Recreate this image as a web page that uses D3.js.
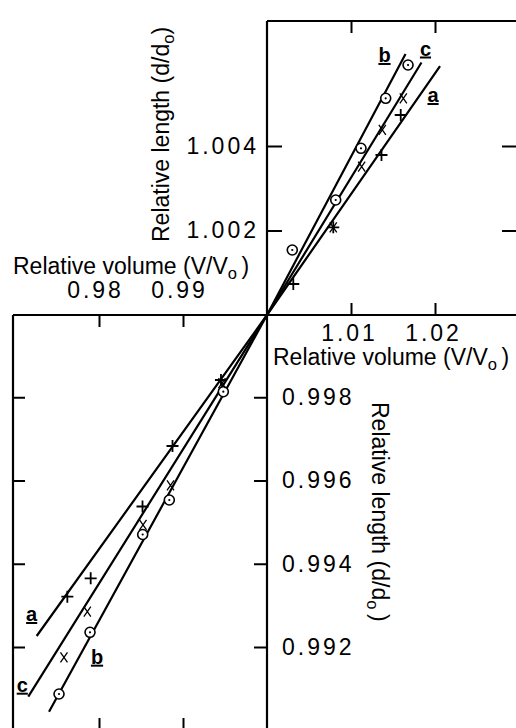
<!DOCTYPE html>
<html><head><meta charset="utf-8">
<script src="https://cdn.jsdelivr.net/npm/d3@7"></script>
<style>
body{margin:0;background:#fff}
svg{display:block}
text{font-family:"Liberation Sans",Arial,Helvetica,sans-serif;fill:#000}
</style></head>
<body><svg id="chart" width="516" height="728"></svg>
<script>
// ---- data ----
const xTicksUpper = [1.01, 1.02];
const xTicksLower = [0.98, 0.99];
const yTicksUpper = [1.002, 1.004];
const yTicksLower = [0.992, 0.994, 0.996, 0.998];
const xTitle = "Relative volume (V/V";
const yTitle = "Relative length (d/d";

// series a (+), b (circle), c (x): [V/Vo, d/do]
const plusUpper   = [[1.01592,1.004734],[1.01363,1.003787],[1.00789,1.002076],[1.00313,1.000734]];
const crossUpper  = [[1.01623,1.005129],[1.01373,1.004379],[1.01127,1.003510],[1.00789,1.002076]];
const circleUpper = [[1.01679,1.005917],[1.01413,1.005129],[1.01119,1.003945],[1.00818,1.002722],[1.00301,1.001538]];
const plusLower   = [[0.99452,0.998414],[0.98875,0.996829],[0.98518,0.995375],[0.97901,0.993651],[0.97623,0.993208]];
const crossLower  = [[0.99464,0.998342],[0.98851,0.995880],[0.98524,0.994931],[0.97861,0.992848],[0.97583,0.991752]];
const circleLower = [[0.99480,0.998133],[0.98837,0.995532],[0.98520,0.994703],[0.97893,0.992353],[0.97524,0.990871]];

const lineA = [[0.97258,0.992264],[1,1],[1.02060,1.005893]];
const lineB = [[0.97405,0.990446],[1,1],[1.01649,1.006178]];
const lineC = [[0.97158,0.990806],[1,1],[1.01839,1.005976]];
const lineNames = ["a","b","c"];

// ---- scales ----
const svg = d3.select("#chart");
const x = d3.scaleLinear().domain([0.98, 1.02]).range([99, 435]);
const yUp = d3.scaleLinear().domain([1, 1.004]).range([315, 146]);
const yLo = d3.scaleLinear().domain([1, 0.992]).range([314, 647]);
const y = d => d >= 1 ? yUp(d) : yLo(d);

const X0 = x(1), Y0 = yUp(1);
const leftX = 13, topY = 21, rightX = 516, botY = 728;
const FS = 23;

// ---- frames ----
const frame = svg.append("g").attr("stroke","#000").attr("stroke-width",2.2).attr("fill","none");
frame.append("line").attr("x1",X0).attr("x2",rightX+2).attr("y1",topY).attr("y2",topY);
frame.append("line").attr("x1",X0).attr("x2",X0).attr("y1",topY).attr("y2",botY+2);
frame.append("line").attr("x1",leftX).attr("x2",rightX+2).attr("y1",Y0).attr("y2",Y0);
frame.append("line").attr("x1",leftX).attr("x2",leftX).attr("y1",Y0).attr("y2",botY+2);

function styleAxis(g){
  g.select(".domain").remove();
  g.selectAll(".tick line").attr("stroke","#000").attr("stroke-width",2);
  g.selectAll(".tick text").attr("font-size",FS).attr("letter-spacing","3px")
    .attr("font-family","'Liberation Sans',Arial,sans-serif").attr("fill","#000");
}

// upper-right quadrant
svg.append("g").attr("transform",`translate(0,${topY})`)
  .call(d3.axisBottom(x).tickValues(xTicksUpper).tickSize(12).tickFormat(""))
  .call(styleAxis);
svg.append("g").attr("transform",`translate(0,${Y0})`)
  .call(d3.axisBottom(x).tickValues(xTicksUpper).tickSizeInner(-12).tickSizeOuter(0).tickPadding(10).tickFormat(d3.format(".2f")))
  .call(styleAxis)
  .call(g=>g.selectAll(".tick text").attr("dx","-2"));
svg.append("g").attr("transform",`translate(${X0},0)`)
  .call(d3.axisLeft(yUp).tickValues(yTicksUpper).tickSizeInner(-15).tickSizeOuter(0).tickPadding(8).tickFormat(d3.format(".3f")))
  .call(styleAxis);
svg.append("g").attr("transform",`translate(${rightX},0)`)
  .call(d3.axisRight(yUp).tickValues(yTicksUpper).tickSize(-14).tickFormat(""))
  .call(styleAxis);

// lower-left quadrant
svg.append("g").attr("transform",`translate(0,${Y0})`)
  .call(d3.axisTop(x).tickValues(xTicksLower).tickSizeInner(-12).tickSizeOuter(0).tickPadding(17).tickFormat(d3.format(".2f")))
  .call(styleAxis)
  .call(g=>g.selectAll(".tick text").attr("dx","-4"));
svg.append("g").attr("transform",`translate(0,${botY})`)
  .call(d3.axisTop(x).tickValues(xTicksLower).tickSize(10).tickFormat(""))
  .call(styleAxis);
svg.append("g").attr("transform",`translate(${leftX},0)`)
  .call(d3.axisRight(yLo).tickValues(yTicksLower).tickSize(12).tickFormat(""))
  .call(styleAxis);
svg.append("g").attr("transform",`translate(${X0},0)`)
  .call(d3.axisRight(yLo).tickValues(yTicksLower).tickSizeInner(-13).tickSizeOuter(0).tickPadding(15).tickFormat(d3.format(".3f")))
  .call(styleAxis);

// ---- titles ----
function title(g, base, closing){
  const t = g.append("text").attr("font-size",FS);
  t.append("tspan").text(base);
  t.append("tspan").attr("font-size",FS*0.72).attr("dy",5).text("o");
  t.append("tspan").attr("dy",-5).text(closing);
  return t;
}
title(svg.append("g").attr("transform",`translate(${leftX},274)`), xTitle, "\u2009)");
title(svg.append("g").attr("transform",`translate(273,365)`), xTitle, "\u2009)");
title(svg.append("g").attr("transform",`translate(169,242) rotate(-90)`), yTitle, ")");
title(svg.append("g").attr("transform",`translate(372,402) rotate(90)`), yTitle, "\u2009)");

// ---- lines ----
const lineGen = d3.line().x(d=>x(d[0])).y(d=>y(d[1]));
const lines = [lineA, lineB, lineC];
svg.append("g").selectAll("path").data(lines).join("path")
  .attr("d", lineGen).attr("fill","none").attr("stroke","#000").attr("stroke-width",2.2);

// ---- markers ----
const mk = svg.append("g").attr("stroke","#000").attr("fill","none");
function plus(pts){
  mk.append("g").selectAll("path").data(pts).join("path")
    .attr("d",d=>{const cx=x(d[0]),cy=y(d[1]);return `M${cx-6},${cy}H${cx+6}M${cx},${cy-6}V${cy+6}`;})
    .attr("stroke-width",1.8);
}
function cross(pts){
  mk.append("g").selectAll("path").data(pts).join("path")
    .attr("d",d=>{const cx=x(d[0]),cy=y(d[1]);return `M${cx-3.5},${cy-5}L${cx+3.5},${cy+5}M${cx+3.5},${cy-5}L${cx-3.5},${cy+5}`;})
    .attr("stroke-width",1.3);
}
function circ(pts){
  const g = mk.append("g");
  g.selectAll("circle.o").data(pts).join("circle").attr("class","o")
    .attr("cx",d=>x(d[0])).attr("cy",d=>y(d[1])).attr("r",5).attr("fill","#fff").attr("stroke-width",1.6);
  g.selectAll("circle.dot").data(pts).join("circle").attr("class","dot")
    .attr("cx",d=>x(d[0])).attr("cy",d=>y(d[1])).attr("r",1.1).attr("fill","#000").attr("stroke","none");
}
circ(circleUpper); circ(circleLower);
plus(plusUpper); plus(plusLower);
cross(crossUpper); cross(crossLower);

// ---- line labels (offsets from line ends) ----
const labelOffsets = [
  {line:0, end:2, dx:-7, dy:36}, {line:0, end:0, dx:-5, dy:-15},
  {line:1, end:2, dx:-21, dy:8}, {line:1, end:0, dx:48, dy:-48},
  {line:2, end:2, dx:4, dy:-7},  {line:2, end:0, dx:-6, dy:-5}
];
svg.append("g").selectAll("text").data(labelOffsets).join("text")
  .attr("x",d=>x(lines[d.line][d.end][0])+d.dx)
  .attr("y",d=>y(lines[d.line][d.end][1])+d.dy)
  .attr("text-anchor","middle").attr("font-size",20).attr("font-weight","bold")
  .attr("text-decoration","underline")
  .text(d=>lineNames[d.line]);
</script></body></html>
